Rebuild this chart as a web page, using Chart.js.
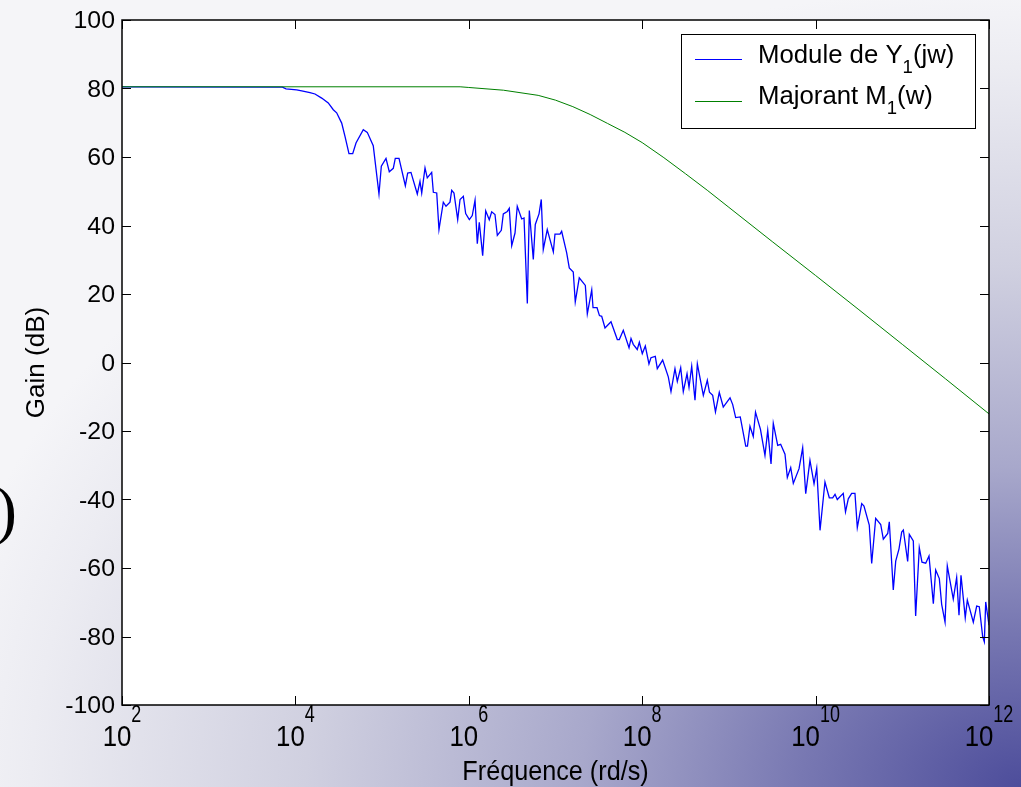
<!DOCTYPE html>
<html lang="fr">
<head>
<meta charset="UTF-8">
<script src="https://cdn.jsdelivr.net/npm/chart.js"></script>
<style>
    html, body {
        margin: 0;
        padding: 0;
        width: 1021px;
        height: 787px;
        overflow: hidden;
    }
    body {
        background: radial-gradient(ellipse 1100px 800px at 100% 100%, #4d4d9b 0%, #7878b2 20%, #a8a8cb 40%, #d0d0e0 65%, #ececf2 90%, #f5f5f8 100%);
    }
    #bode {
        display: block;
    }
</style>
<title>Module de Y1(jw)</title>
</head>
<body>
<canvas id="bode" width="1021" height="787"></canvas>
<script>
    // frequencies are stored as log10(w), gains in dB
    var blueExp = [2, 3.85, 3.892, 4.015, 4.073, 4.168, 4.226, 4.303, 4.379, 4.437, 4.476, 4.534, 4.572, 4.618, 4.661, 4.699,
        4.783, 4.829, 4.898, 4.964, 4.991, 5.045, 5.083, 5.129, 5.152, 5.195, 5.268, 5.295, 5.333, 5.406, 5.437, 5.457,
        5.495, 5.521, 5.572, 5.591, 5.630, 5.656, 5.706, 5.737, 5.783, 5.803, 5.829, 5.872, 5.899, 5.937, 5.964, 6.006,
        6.040, 6.072, 6.098, 6.121, 6.160, 6.195, 6.236, 6.264, 6.302, 6.329, 6.375, 6.398, 6.444, 6.467, 6.495, 6.533,
        6.559, 6.610, 6.637, 6.675, 6.698, 6.744, 6.767, 6.810, 6.836, 6.859, 6.905, 6.975, 6.994, 7.052, 7.071, 7.129,
        7.159, 7.205, 7.228, 7.274, 7.344, 7.367, 7.418, 7.433, 7.479, 7.507, 7.533, 7.571, 7.640, 7.713, 7.736, 7.782,
        7.848, 7.871, 7.897, 7.943, 7.967, 8.001, 8.036, 8.078, 8.101, 8.151, 8.174, 8.236, 8.301, 8.332, 8.378, 8.405,
        8.444, 8.474, 8.517, 8.540, 8.571, 8.609, 8.636, 8.705, 8.751, 8.776, 8.813, 8.845, 8.889, 8.935, 9.013, 9.044,
        9.078, 9.131, 9.194, 9.214, 9.243, 9.281, 9.307, 9.364, 9.416, 9.448, 9.486, 9.512, 9.563, 9.597, 9.647, 9.674,
        9.713, 9.743, 9.809, 9.851, 9.886, 9.935, 9.982, 10.013, 10.051, 10.108, 10.158, 10.197, 10.224, 10.250, 10.319, 10.345,
        10.377, 10.416, 10.454, 10.481, 10.532, 10.558, 10.619, 10.647, 10.693, 10.751, 10.781, 10.832, 10.850, 10.896, 10.924, 10.962,
        10.993, 11.012, 11.062, 11.081, 11.127, 11.154, 11.196, 11.227, 11.270, 11.308, 11.358, 11.385, 11.427, 11.454, 11.493, 11.519,
        11.588, 11.627, 11.654, 11.677, 11.726, 11.750, 11.819, 11.858, 11.888, 11.927, 11.946, 11.962, 12];
    var blueGain = [80.5, 80.4, 79.9, 79.6, 79.3, 78.8, 78.4, 77.2, 75.8, 73.8, 72.9, 69.9, 66.0, 61.0, 61.0, 64.1,
        68.0, 67.2, 63.3, 49.2, 57.3, 59.6, 55.7, 56.7, 59.6, 59.6, 51.6, 55.3, 55.5, 49.2, 52.9, 49.5,
        56.8, 53.9, 55.5, 49.7, 49.5, 38.8, 46.8, 45.6, 46.8, 50.3, 49.5, 41.7, 47.6, 48.5, 43.5, 41.7,
        42.9, 47.4, 34.7, 40.9, 31.2, 44.3, 41.7, 44.0, 43.2, 37.1, 38.6, 43.4, 44.1, 45.0, 34.1, 37.8,
        45.6, 41.9, 42.2, 17.2, 44.4, 30.1, 40.3, 43.4, 47.6, 33.0, 38.8, 32.3, 37.5, 37.5, 38.3, 32.0,
        27.6, 26.4, 17.7, 24.7, 22.5, 14.2, 21.2, 16.0, 16.0, 13.7, 13.5, 10.1, 11.9, 6.7, 6.7, 9.4,
        4.3, 7.0, 5.3, 3.8, 5.9, 2.6, 4.8, -0.4, 1.4, 1.8, -1.8, 0.7, -4.2, -8.5, -1.8, -5.5,
        -1.5, -8.5, -3.3, -7.2, -1.1, -11.0, -0.4, -9.6, -5.2, -8.7, -9.6, -14.4, -8.7, -13.0, -10.3, -12.3,
        -16.1, -15.9, -24.4, -24.4, -18.6, -21.6, -14.5, -19.5, -27.1, -19.8, -29.6, -17.8, -24.2, -23.9, -26.8, -33.6,
        -30.7, -35.3, -31.0, -24.9, -38.3, -28.6, -35.4, -30.9, -49.0, -34.9, -39.5, -39.5, -38.5, -40.0, -38.2, -43.6,
        -39.8, -38.2, -38.2, -48.2, -41.2, -41.9, -47.5, -58.7, -45.5, -47.3, -51.6, -49.9, -46.5, -66.4, -58.0, -54.4,
        -49.5, -48.9, -58.1, -50.2, -52.1, -74.0, -54.1, -58.3, -58.6, -56.5, -70.4, -60.6, -63.1, -70.6, -75.8, -59.4,
        -69.1, -62.8, -73.8, -62.1, -74.5, -69.4, -75.8, -71.1, -71.3, -80.0, -81.5, -69.9, -76.7];

    var greenExp = [2, 5.9, 6.0, 6.4, 6.8, 7.0, 7.2, 7.4, 7.6, 7.8, 8.0, 8.25, 8.5, 8.75, 9.0, 9.5, 10.0, 10.5, 11.0, 11.5, 12];
    var greenGain = [80.5, 80.5, 80.3, 79.5, 78.0, 76.6, 74.7, 72.4, 69.8, 67.2, 64.2, 59.8, 55.1, 50.3, 45.3, 35.3, 25.4, 15.4, 5.3, -4.8, -15.0];

    var xTickExp = [2, 4, 6, 8, 10, 12];
    var yTicks = [-100, -80, -60, -40, -20, 0, 20, 40, 60, 80, 100];

    var legendNames = [["Module de Y", "1", "(jw)"], ["Majorant M", "1", "(w)"]];
    var blueColor = '#0000ff';
    var greenColor = '#008000';

    function toPoints(ex, g) {
        var pts = [];
        for (let i = 0; i < ex.length; i++) {
            pts.push({x: Math.pow(10, ex[i]), y: g[i]});
        }
        return pts;
    }

    var FONT = '"Liberation Sans", Arial, sans-serif';

    // sx stretches (or squeezes) the text sideways, like the slide does
    function wideText(ctx, s, x, y, size, align, sx) {
        ctx.save();
        ctx.font = size + 'px ' + FONT;
        ctx.translate(x, y);
        ctx.scale(sx, 1);
        ctx.textAlign = align;
        ctx.textBaseline = 'alphabetic';
        ctx.fillText(s, 0, 0);
        ctx.restore();
    }
    function wideWidth(ctx, s, size, sx) {
        ctx.font = size + 'px ' + FONT;
        return ctx.measureText(s).width * sx;
    }

    var matlabFrame = {
        id: 'matlabFrame',
        beforeDraw(chart) {
            let ctx = chart.ctx;
            let a = chart.chartArea;
            ctx.save();
            ctx.fillStyle = '#ffffff';
            ctx.fillRect(a.left, a.top, a.right - a.left, a.bottom - a.top);
            // bit of the slide showing on the left
            ctx.fillStyle = '#000000';
            ctx.font = '66px "Liberation Serif", serif';
            ctx.textBaseline = 'alphabetic';
            ctx.fillText(')', -5, 532);
            ctx.restore();
        },
        afterDraw(chart) {
            let ctx = chart.ctx;
            let a = chart.chartArea;
            let xs = chart.scales.x;
            let ys = chart.scales.y;
            ctx.save();
            ctx.strokeStyle = '#000000';
            ctx.lineWidth = 1.5;
            ctx.strokeRect(a.left, a.top, a.right - a.left, a.bottom - a.top);

            ctx.lineWidth = 1;
            ctx.beginPath();
            let tl = 9;
            xTickExp.forEach(function(e) {
                let px = Math.round(xs.getPixelForValue(Math.pow(10, e))) + 0.5;
                ctx.moveTo(px, a.bottom); ctx.lineTo(px, a.bottom - tl);
                ctx.moveTo(px, a.top); ctx.lineTo(px, a.top + tl);
            });
            yTicks.forEach(function(v) {
                let py = Math.round(ys.getPixelForValue(v)) + 0.5;
                ctx.moveTo(a.left, py); ctx.lineTo(a.left + tl, py);
                ctx.moveTo(a.right, py); ctx.lineTo(a.right - tl, py);
            });
            ctx.stroke();

            ctx.fillStyle = '#000000';
            yTicks.forEach(function(v) {
                wideText(ctx, String(v), a.left - 7, ys.getPixelForValue(v) + 8, 23, 'right', 1.08);
            });

            xTickExp.forEach(function(e) {
                let px = xs.getPixelForValue(Math.pow(10, e));
                let w1 = wideWidth(ctx, '10', 30, 0.86);
                let w2 = wideWidth(ctx, String(e), 23, 0.78);
                let x0 = px - (w1 + w2) / 2;
                wideText(ctx, '10', x0, a.bottom + 41, 30, 'left', 0.86);
                wideText(ctx, String(e), x0 + w1, a.bottom + 17, 23, 'left', 0.78);
            });

            // axis titles
            wideText(ctx, 'Fréquence (rd/s)', (a.left + a.right) / 2, 780, 28, 'center', 0.9);
            ctx.save();
            ctx.translate(44, (a.top + a.bottom) / 2);
            ctx.rotate(-Math.PI / 2);
            ctx.font = '26px ' + FONT;
            ctx.textAlign = 'center';
            ctx.textBaseline = 'alphabetic';
            ctx.fillText('Gain (dB)', 0, 0);
            ctx.restore();

            // legend box
            let bx = 681, by = 34, bw = 294, bh = 94;
            ctx.fillStyle = '#ffffff';
            ctx.fillRect(bx, by, bw, bh);
            ctx.lineWidth = 1;
            ctx.strokeStyle = '#000000';
            ctx.strokeRect(bx + 0.5, by + 0.5, bw, bh);
            let rows = [59.5, 101.5];
            let bases = [63, 104];
            let cols = [blueColor, greenColor];
            for (let i = 0; i < 2; i++) {
                ctx.strokeStyle = cols[i];
                ctx.beginPath();
                ctx.moveTo(695, rows[i]);
                ctx.lineTo(742, rows[i]);
                ctx.stroke();
                ctx.fillStyle = '#000000';
                let n = legendNames[i];
                let x = 758;
                let y = bases[i];
                wideText(ctx, n[0], x, y, 25, 'left', 1.03);
                x += wideWidth(ctx, n[0], 25, 1.03);
                wideText(ctx, n[1], x, y + 10, 18, 'left', 1.03);
                x += wideWidth(ctx, n[1], 18, 1.03);
                wideText(ctx, n[2], x, y, 25, 'left', 1.03);
            }
            ctx.restore();
        }
    };

    var chart = new Chart(document.getElementById('bode'), {
        type: 'line',
        data: {
            datasets: [
                {
                    label: 'Module de Y1(jw)',
                    data: toPoints(blueExp, blueGain),
                    borderColor: blueColor,
                    borderWidth: 1.3,
                    pointRadius: 0,
                    tension: 0,
                    fill: false,
                    order: 1
                },
                {
                    label: 'Majorant M1(w)',
                    data: toPoints(greenExp, greenGain),
                    borderColor: greenColor,
                    borderWidth: 1,
                    pointRadius: 0,
                    tension: 0,
                    fill: false,
                    order: 0
                }
            ]
        },
        options: {
            responsive: false,
            animation: false,
            events: [],
            layout: {
                padding: {left: 122, right: 32, top: 20, bottom: 82}
            },
            plugins: {
                legend: {display: false},
                tooltip: {enabled: false}
            },
            scales: {
                x: {
                    type: 'logarithmic',
                    display: false,
                    min: 1e2,
                    max: 1e12
                },
                y: {
                    type: 'linear',
                    display: false,
                    min: -100,
                    max: 100
                }
            }
        },
        plugins: [matlabFrame]
    });
</script>
</body>
</html>
